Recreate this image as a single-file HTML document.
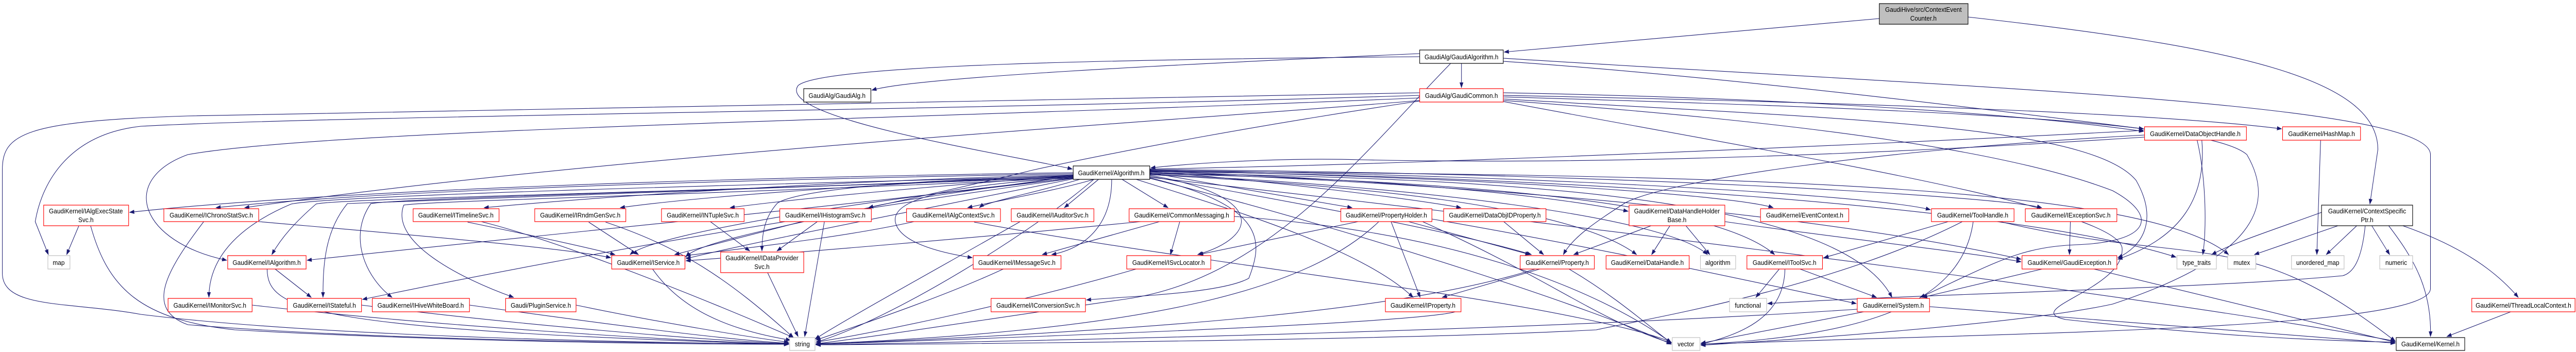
<!DOCTYPE html>
<html><head><meta charset="utf-8"><style>
html,body{margin:0;padding:0;background:#fff;width:100%;height:100%;overflow:hidden;}
svg{display:block;width:100vw;height:100vh;}
text{font-family:"Liberation Sans",Arial,sans-serif;font-size:13px;fill:#000;}
.e{fill:none;stroke:#191970;stroke-width:1.1;marker-end:url(#a);}
.r{fill:#fff;stroke:#ff0000;stroke-width:1.2;}
.k{fill:#fff;stroke:#000;stroke-width:1.2;}
.g{fill:#fff;stroke:#bfbfbf;stroke-width:1.2;}
</style></head><body>
<svg viewBox="0 0 5487 683" preserveAspectRatio="none" xmlns="http://www.w3.org/2000/svg">
<defs><marker id="a" markerUnits="userSpaceOnUse" markerWidth="11" markerHeight="8" refX="10" refY="4" orient="auto"><polygon points="0,0 11,4 0,8" fill="#191970"/></marker></defs>
<g>
<path class="e" d="M4003,36 L3204,101"/>
<path class="e" d="M4192,33 C4750,90 5065,150 5065,290 L5048,396"/>
<path class="e" d="M3113,123 L3113,170"/>
<path class="e" d="M3024,104 C2500,125 1950,150 1857,175"/>
<path class="e" d="M3024,110 C2400,115 1750,125 1700,166 C1650,230 2150,300 2284,328"/>
<path class="e" d="M3090,123 C2900,300 2700,540 2400,580 C2100,620 1850,655 1738,667"/>
<path class="e" d="M3202,113 C4200,170 5177,200 5177,300 L5177,560 C5177,640 4300,645 3623,668"/>
<path class="e" d="M3202,119 C3700,150 4300,220 4566,250"/>
<path class="e" d="M3024,180 C2000,205 1000,210 400,225 C50,235 5,260 5,330 L5,530 C5,600 150,585 300,610 C700,655 1400,665 1680,668"/>
<path class="e" d="M3024,185 C2000,215 700,225 300,245 C150,260 90,350 75,430 L103,494"/>
<path class="e" d="M3024,190 C2000,230 700,250 400,300 C250,350 300,470 483,505"/>
<path class="e" d="M3024,195 C2500,235 1300,300 521,403"/>
<path class="e" d="M3024,196 C2700,240 2400,290 2200,330 C1800,420 1500,460 1461,498"/>
<path class="e" d="M3202,180 C3800,190 4300,220 4566,255"/>
<path class="e" d="M3202,185 C4000,200 4600,220 4860,250"/>
<path class="e" d="M3202,188 C4000,210 4700,230 4786,300 C4850,400 4800,500 4500,590 C4300,630 3800,660 3623,670"/>
<path class="e" d="M3202,192 C3900,230 4450,240 4550,350 C4600,430 4560,480 4511,500"/>
<path class="e" d="M3202,195 C3900,240 4300,300 4500,370 C4600,420 4580,470 4420,475 C4300,480 4250,510 4090,577"/>
<path class="e" d="M3202,197 C3800,300 4500,400 4520,480 C4530,560 4300,600 4400,620 C4700,650 4900,660 5102,664"/>
<path class="e" d="M2286,335 C1500,345 700,370 276,412"/>
<path class="e" d="M2286,337 C1500,350 800,370 460,403"/>
<path class="e" d="M2286,339 C1800,350 1300,380 1031,403"/>
<path class="e" d="M2286,340 C1900,355 1500,380 1321,403"/>
<path class="e" d="M2286,341 C2000,360 1700,385 1555,403"/>
<path class="e" d="M2286,342 C2100,365 1900,390 1850,403"/>
<path class="e" d="M2330,348 C2250,370 2120,390 2061,403"/>
<path class="e" d="M2300,348 C2200,375 2100,392 2086,403"/>
<path class="e" d="M2340,348 L2267,403"/>
<path class="e" d="M2390,348 L2488,403"/>
<path class="e" d="M2449,335 C2600,360 2800,390 2880,403"/>
<path class="e" d="M2449,333 C2700,350 3000,385 3112,403"/>
<path class="e" d="M2449,332 C3000,350 3300,380 3468,410"/>
<path class="e" d="M2449,331 C3200,345 3700,380 3777,403"/>
<path class="e" d="M2449,330 C3300,340 4000,380 4112,407"/>
<path class="e" d="M2449,329 C3400,335 4250,380 4349,403"/>
<path class="e" d="M2449,328 C3000,320 4000,280 4566,253"/>
<path class="e" d="M2286,345 C1800,400 1000,470 654,505"/>
<path class="e" d="M2286,346 C1700,420 1200,500 772,581"/>
<path class="e" d="M2286,342 C1500,360 700,380 620,396 C480,450 445,520 445,577"/>
<path class="e" d="M2286,343 C1500,365 800,390 740,395 C690,450 688,520 688,577"/>
<path class="e" d="M2286,344 C1500,370 850,385 790,395 C740,460 780,540 835,577"/>
<path class="e" d="M2286,345 C1600,375 900,390 860,398 C830,470 980,540 1094,577"/>
<path class="e" d="M2286,343 C1600,370 700,385 673,396 C630,430 600,460 579,494"/>
<path class="e" d="M2286,346 C1900,380 1400,450 1342,494"/>
<path class="e" d="M2286,347 C2000,400 1600,470 1461,502"/>
<path class="e" d="M2286,341 C1900,350 1700,370 1656,394 C1630,420 1623,450 1623,487"/>
<path class="e" d="M2286,345 C2000,360 1900,390 1907,430 C1915,470 2000,490 2071,500"/>
<path class="e" d="M2368,348 C2368,430 2320,480 2240,494"/>
<path class="e" d="M2449,340 C2700,380 2680,460 2551,494"/>
<path class="e" d="M2449,345 C2700,400 2690,470 2660,540 C2600,570 2400,575 2314,582"/>
<path class="e" d="M2420,348 C2600,400 2900,480 3010,577"/>
<path class="e" d="M2449,342 C2800,400 3100,450 3262,494"/>
<path class="e" d="M2449,339 C2900,360 3350,400 3486,494"/>
<path class="e" d="M2449,338 C3000,360 3550,420 3637,494"/>
<path class="e" d="M2449,337 C3100,350 3650,390 3780,494"/>
<path class="e" d="M2449,336 C3200,345 3920,380 4030,577"/>
<path class="e" d="M2449,334 C3200,360 3900,420 4305,503"/>
<path class="e" d="M2449,333 C3300,340 4300,400 4635,499"/>
<path class="e" d="M2449,332 C3400,340 4550,340 4747,494"/>
<path class="e" d="M2330,348 C2200,450 1900,620 1738,664"/>
<path class="e" d="M2449,346 C2900,450 3400,600 3560,668"/>
<path class="e" d="M2449,344 C3000,400 4500,560 5102,662"/>
<path class="e" d="M168,438 L142,494"/>
<path class="e" d="M193,438 C230,560 300,620 500,640 C1000,665 1500,668 1680,668"/>
<path class="e" d="M434,430 C350,530 310,600 400,630 C800,660 1400,666 1680,667"/>
<path class="e" d="M551,430 C800,450 1200,480 1301,500"/>
<path class="e" d="M996,431 C1150,460 1250,480 1310,494"/>
<path class="e" d="M1025,430 C1200,470 1500,580 1690,655"/>
<path class="e" d="M586,522 L663,577"/>
<path class="e" d="M569,522 C570,600 650,640 1680,668"/>
<path class="e" d="M537,592 C900,630 1400,660 1680,668"/>
<path class="e" d="M770,592 C1100,630 1500,660 1680,667"/>
<path class="e" d="M1000,592 C1300,630 1550,660 1680,666"/>
<path class="e" d="M1227,592 C1400,625 1600,655 1680,664"/>
<path class="e" d="M1254,431 L1360,494"/>
<path class="e" d="M1290,431 C1450,480 1550,540 1690,655"/>
<path class="e" d="M1513,430 L1597,487"/>
<path class="e" d="M1708,430 L1437,494"/>
<path class="e" d="M1741,430 L1655,487"/>
<path class="e" d="M1756,430 L1714,653"/>
<path class="e" d="M1947,430 C1800,460 1600,480 1461,496"/>
<path class="e" d="M2173,430 C2000,520 1800,620 1736,658"/>
<path class="e" d="M2075,431 C2300,470 2700,520 3000,560 C3300,600 3500,640 3560,664"/>
<path class="e" d="M1635,529 L1700,653"/>
<path class="e" d="M1390,522 C1450,600 1550,640 1684,660"/>
<path class="e" d="M2137,522 C2000,580 1800,640 1738,660"/>
<path class="e" d="M2470,430 L2220,494"/>
<path class="e" d="M2513,430 L2493,494"/>
<path class="e" d="M2430,430 C2100,460 1700,490 1461,506"/>
<path class="e" d="M2629,420 C3100,450 3400,560 3560,665"/>
<path class="e" d="M2420,522 C2200,580 1900,640 1738,664"/>
<path class="e" d="M2893,430 L2553,494"/>
<path class="e" d="M2963,430 L3025,577"/>
<path class="e" d="M2937,430 C2800,550 2500,640 1738,667"/>
<path class="e" d="M3000,430 L3259,494"/>
<path class="e" d="M3030,430 C3300,540 3400,620 3560,666"/>
<path class="e" d="M3050,425 C3400,480 3700,540 3954,589"/>
<path class="e" d="M3203,430 L3288,494"/>
<path class="e" d="M3280,522 L3072,577"/>
<path class="e" d="M3342,522 C3450,580 3520,640 3560,665"/>
<path class="e" d="M3270,522 C3000,600 2500,640 1738,668"/>
<path class="e" d="M3517,438 L3352,494"/>
<path class="e" d="M3557,438 L3518,494"/>
<path class="e" d="M3591,438 L3642,494"/>
<path class="e" d="M3674,430 C3900,460 4200,490 4305,508"/>
<path class="e" d="M3790,522 L3740,577"/>
<path class="e" d="M3834,522 L3997,577"/>
<path class="e" d="M3802,522 C3800,620 3700,650 3623,668"/>
<path class="e" d="M3100,605 C3000,630 2000,660 1738,668"/>
<path class="e" d="M4150,430 L3885,500"/>
<path class="e" d="M4180,430 C3900,560 3500,620 3400,640 C3000,660 2000,668 1738,669"/>
<path class="e" d="M4203,430 C4180,580 4000,650 3623,668"/>
<path class="e" d="M4260,430 C4400,460 4500,470 4600,480 C4800,500 4900,520 5102,662"/>
<path class="e" d="M4410,430 L4408,494"/>
<path class="e" d="M4350,522 L4095,577"/>
<path class="e" d="M4460,522 L5102,664"/>
<path class="e" d="M3970,605 L3623,666"/>
<path class="e" d="M3956,600 C3300,640 2300,660 1738,669"/>
<path class="e" d="M4110,595 L5102,666"/>
<path class="e" d="M5038,438 C5030,510 5010,530 4990,535 C4700,560 4100,570 3765,589"/>
<path class="e" d="M4945,412 C4830,450 4760,470 4711,494"/>
<path class="e" d="M4980,438 L4802,494"/>
<path class="e" d="M5020,438 L4955,494"/>
<path class="e" d="M5052,438 L5090,494"/>
<path class="e" d="M5088,438 C5140,500 5180,560 5177,653"/>
<path class="e" d="M5118,438 C5250,480 5320,530 5364,577"/>
<path class="e" d="M5348,605 L5212,653"/>
<path class="e" d="M4943,272 L4935,494"/>
<path class="e" d="M4680,272 C4700,350 4700,450 4692,494"/>
<path class="e" d="M4690,272 C4700,380 4650,460 4511,503"/>
<path class="e" d="M4568,262 C4000,290 3550,350 3461,394 C3400,430 3350,460 3330,494"/>
<path class="e" d="M4568,266 C4000,300 3400,320 2900,310 C2700,305 2500,320 2451,326"/>
</g>
<g>
<rect x="4003" y="7" width="189" height="40" fill="#bfbfbf" stroke="#000" stroke-width="1.2"/>
<text x="4097" y="23" text-anchor="middle">GaudiHive/src/ContextEvent</text><text x="4097" y="40" text-anchor="middle">Counter.h</text>

<rect class="k" x="3024" y="97" width="178" height="26"/><text x="3113" y="115" text-anchor="middle">GaudiAlg/GaudiAlgorithm.h</text>
<rect class="k" x="1712" y="172" width="143" height="26"/><text x="1783" y="190" text-anchor="middle">GaudiAlg/GaudiAlg.h</text>
<rect class="r" x="3024" y="172" width="178" height="26"/><text x="3113" y="190" text-anchor="middle">GaudiAlg/GaudiCommon.h</text>
<rect class="r" x="4568" y="246" width="217" height="26"/><text x="4676" y="264" text-anchor="middle">GaudiKernel/DataObjectHandle.h</text>
<rect class="r" x="4862" y="246" width="166" height="26"/><text x="4945" y="264" text-anchor="middle">GaudiKernel/HashMap.h</text>
<rect class="k" x="2286" y="322" width="163" height="26"/><text x="2367" y="340" text-anchor="middle">GaudiKernel/Algorithm.h</text>

<rect class="r" x="93" y="398" width="181" height="40"/><text x="183" y="414" text-anchor="middle">GaudiKernel/IAlgExecState</text><text x="183" y="431" text-anchor="middle">Svc.h</text>
<rect class="r" x="349" y="405" width="202" height="25"/><text x="450" y="422" text-anchor="middle">GaudiKernel/IChronoStatSvc.h</text>
<rect class="r" x="880" y="405" width="183" height="25"/><text x="971" y="422" text-anchor="middle">GaudiKernel/ITimelineSvc.h</text>
<rect class="r" x="1139" y="405" width="194" height="25"/><text x="1236" y="422" text-anchor="middle">GaudiKernel/IRndmGenSvc.h</text>
<rect class="r" x="1409" y="405" width="176" height="25"/><text x="1497" y="422" text-anchor="middle">GaudiKernel/INTupleSvc.h</text>
<rect class="r" x="1661" y="405" width="195" height="25"/><text x="1758" y="422" text-anchor="middle">GaudiKernel/IHistogramSvc.h</text>
<rect class="r" x="1931" y="405" width="200" height="25"/><text x="2031" y="422" text-anchor="middle">GaudiKernel/IAlgContextSvc.h</text>
<rect class="r" x="2154" y="405" width="176" height="25"/><text x="2242" y="422" text-anchor="middle">GaudiKernel/IAuditorSvc.h</text>
<rect class="r" x="2405" y="405" width="224" height="25"/><text x="2517" y="422" text-anchor="middle">GaudiKernel/CommonMessaging.h</text>
<rect class="r" x="2856" y="405" width="194" height="25"/><text x="2953" y="422" text-anchor="middle">GaudiKernel/PropertyHolder.h</text>
<rect class="r" x="3075" y="405" width="218" height="25"/><text x="3184" y="422" text-anchor="middle">GaudiKernel/DataObjIDProperty.h</text>
<rect class="r" x="3470" y="398" width="204" height="40"/><text x="3572" y="414" text-anchor="middle">GaudiKernel/DataHandleHolder</text><text x="3572" y="431" text-anchor="middle">Base.h</text>
<rect class="r" x="3750" y="405" width="188" height="25"/><text x="3844" y="422" text-anchor="middle">GaudiKernel/EventContext.h</text>
<rect class="r" x="4114" y="405" width="176" height="25"/><text x="4202" y="422" text-anchor="middle">GaudiKernel/ToolHandle.h</text>
<rect class="r" x="4314" y="405" width="195" height="25"/><text x="4411" y="422" text-anchor="middle">GaudiKernel/IExceptionSvc.h</text>
<rect class="k" x="4945" y="398" width="194" height="40"/><text x="5042" y="414" text-anchor="middle">GaudiKernel/ContextSpecific</text><text x="5042" y="431" text-anchor="middle">Ptr.h</text>

<rect class="g" x="102" y="496" width="47" height="26"/><text x="125" y="514" text-anchor="middle">map</text>
<rect class="r" x="485" y="496" width="167" height="26"/><text x="568" y="514" text-anchor="middle">GaudiKernel/IAlgorithm.h</text>
<rect class="r" x="1303" y="496" width="156" height="26"/><text x="1381" y="514" text-anchor="middle">GaudiKernel/IService.h</text>
<rect class="r" x="1535" y="489" width="177" height="40"/><text x="1623" y="505" text-anchor="middle">GaudiKernel/IDataProvider</text><text x="1623" y="522" text-anchor="middle">Svc.h</text>
<rect class="r" x="2073" y="496" width="187" height="26"/><text x="2166" y="514" text-anchor="middle">GaudiKernel/IMessageSvc.h</text>
<rect class="r" x="2400" y="496" width="179" height="26"/><text x="2489" y="514" text-anchor="middle">GaudiKernel/ISvcLocator.h</text>
<rect class="r" x="3238" y="496" width="158" height="26"/><text x="3317" y="514" text-anchor="middle">GaudiKernel/Property.h</text>
<rect class="r" x="3421" y="496" width="177" height="26"/><text x="3509" y="514" text-anchor="middle">GaudiKernel/DataHandle.h</text>
<rect class="g" x="3622" y="496" width="75" height="26"/><text x="3659" y="514" text-anchor="middle">algorithm</text>
<rect class="r" x="3721" y="496" width="161" height="26"/><text x="3801" y="514" text-anchor="middle">GaudiKernel/IToolSvc.h</text>
<rect class="r" x="4307" y="496" width="202" height="26"/><text x="4408" y="514" text-anchor="middle">GaudiKernel/GaudiException.h</text>
<rect class="g" x="4637" y="496" width="84" height="26"/><text x="4679" y="514" text-anchor="middle">type_traits</text>
<rect class="g" x="4745" y="496" width="60" height="26"/><text x="4775" y="514" text-anchor="middle">mutex</text>
<rect class="g" x="4881" y="496" width="112" height="26"/><text x="4937" y="514" text-anchor="middle">unordered_map</text>
<rect class="g" x="5069" y="496" width="70" height="26"/><text x="5104" y="514" text-anchor="middle">numeric</text>

<rect class="r" x="358" y="579" width="179" height="26"/><text x="447" y="597" text-anchor="middle">GaudiKernel/IMonitorSvc.h</text>
<rect class="r" x="612" y="579" width="158" height="26"/><text x="691" y="597" text-anchor="middle">GaudiKernel/IStateful.h</text>
<rect class="r" x="793" y="579" width="207" height="26"/><text x="896" y="597" text-anchor="middle">GaudiKernel/IHiveWhiteBoard.h</text>
<rect class="r" x="1077" y="579" width="150" height="26"/><text x="1152" y="597" text-anchor="middle">Gaudi/PluginService.h</text>
<rect class="r" x="2111" y="579" width="201" height="26"/><text x="2211" y="597" text-anchor="middle">GaudiKernel/IConversionSvc.h</text>
<rect class="r" x="2951" y="579" width="161" height="26"/><text x="3031" y="597" text-anchor="middle">GaudiKernel/IProperty.h</text>
<rect class="g" x="3684" y="579" width="79" height="26"/><text x="3723" y="597" text-anchor="middle">functional</text>
<rect class="r" x="3956" y="579" width="154" height="26"/><text x="4033" y="597" text-anchor="middle">GaudiKernel/System.h</text>
<rect class="r" x="5265" y="579" width="220" height="26"/><text x="5375" y="597" text-anchor="middle">GaudiKernel/ThreadLocalContext.h</text>

<rect class="g" x="1682" y="655" width="54" height="25"/><text x="1709" y="672" text-anchor="middle">string</text>
<rect class="g" x="3562" y="655" width="59" height="25"/><text x="3591" y="672" text-anchor="middle">vector</text>
<rect class="k" x="5104" y="655" width="146" height="25"/><text x="5177" y="672" text-anchor="middle">GaudiKernel/Kernel.h</text>
</g>
</svg>
</body></html>
